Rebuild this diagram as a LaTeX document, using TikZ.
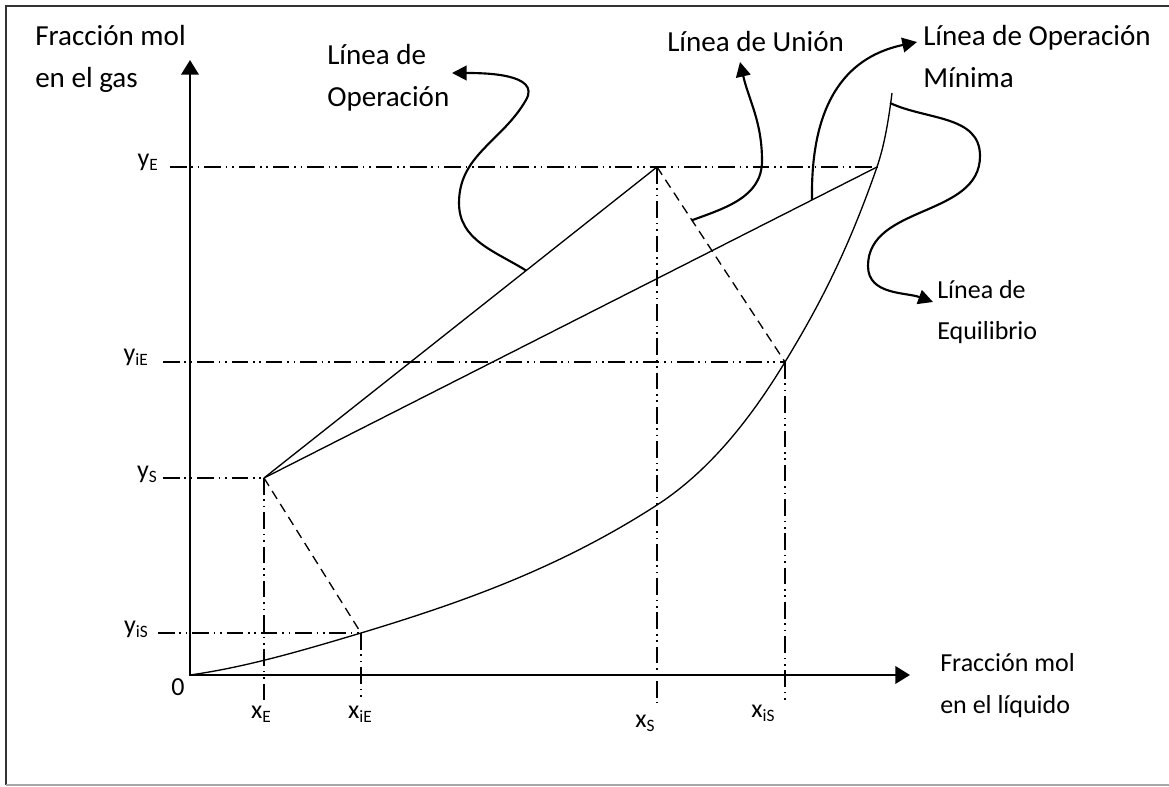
\documentclass[tikz,border=0pt]{standalone}
\usepackage{fontspec}
\setmainfont{Carlito}
\usetikzlibrary{arrows.meta,calc}
\newcommand{\sbi}[1]{\raisebox{-3pt}{\fontsize{13}{13}\selectfont #1}}

\begin{document}
\begin{tikzpicture}[x=0.75pt, y=0.75pt,
	ejes/.style={line width=2pt, {Triangle[length=11pt,width=13pt]}-{Triangle[length=11pt,width=13pt]}},
	fina/.style={line width=1pt},
	guia/.style={line width=1pt, dash pattern=on 12.5pt off 3.6pt on 1.2pt off 3.6pt on 1.2pt off 3.6pt},
	union/.style={line width=1pt, dash pattern=on 7pt off 4.5pt},
	curva/.style={line width=1.6pt, -{Triangle[length=11pt,width=11pt]}},
	texto/.style={font=\fontsize{19.5}{31}\selectfont, inner sep=0pt, align=left},
	textog/.style={font=\fontsize{21.8}{31.5}\selectfont, inner sep=0pt, align=left}]

	\useasboundingbox (0,0) rectangle (1169,786);
	\draw[line width=1.6pt, black!80] (1169,780) -- (6,780) -- (6,1);
	\draw[line width=1pt, black!35] (6,1) -- (1169,1);

	% puntos del diagrama
	\coordinate (O) at (190,111);
	\coordinate (S) at (264,308);
	\coordinate (P) at (657,619);
	\coordinate (Q) at (877,619);
	\coordinate (R) at (785,424);
	\coordinate (T) at (361,153);

	\draw[ejes] (190,726) -- (O) -- (910,111);

	% lineas auxiliares
	\draw[guia] (170,619) -- (Q);
	\draw[guia] (163,424) -- (R);
	\draw[guia] (163,308) -- (S);
	\draw[guia] (158,153) -- (T);
	\draw[guia] (S) -- (264,86);
	\draw[guia] (T) -- (361,88);
	\draw[guia] (P) -- (657,83);
	\draw[guia] (R) -- (785,86);

	% curva de equilibrio y lineas de operacion
	\draw[fina] (O) .. controls (247,119) and (304,136) .. (T)
		.. controls (460,183) and (558,217) .. (657,281)
		.. controls (700,309) and (742,353) .. (R)
		.. controls (816,475) and (846,530) .. (Q)
		.. controls (882,634) and (887,653) .. (892,693);
	\draw[fina] (S) -- (P);
	\draw[fina] (S) -- (Q);
	\draw[union] (P) -- (R);
	\draw[union] (S) -- (T);

	% textos (base = ultima linea)
	\node[textog, anchor=base west] (gas) at (35,698) {Fracción mol\\en el gas};
	\node[texto, anchor=base west] (liq) at (940,73) {Fracción mol\\en el líquido};
	\node[textog, anchor=base west] (lop) at (327,679) {Línea de\\Operación};
	\node[textog, anchor=base west] (lun) at (667,734) {Línea de Unión};
	\node[textog, anchor=base west] (lmin) at (923,698) {Línea de Operación\\Mínima};
	\node[texto, anchor=base west] (leq) at (937,446) {Línea de\\Equilibrio};
	\node[texto, anchor=base] (cero) at (178,91) {0};
	\node[texto, anchor=base east] (yE) at (158,619) {y\sbi{E}};
	\node[texto, anchor=base east] (yiE) at (148,424) {y\sbi{iE}};
	\node[texto, anchor=base east] (yS) at (157,308) {y\sbi{S}};
	\node[texto, anchor=base east] (yiS) at (148,153) {y\sbi{iS}};
	\node[texto, anchor=base] (xE) at (261,68) {x\sbi{E}};
	\node[texto, anchor=base] (xiE) at (360,68) {x\sbi{iE}};
	\node[texto, anchor=base] (xS) at (645,59) {x\sbi{S}};
	\node[texto, anchor=base] (xiS) at (763,69) {x\sbi{iS}};

	% flechas de las etiquetas
	\coordinate (a1) at ($(S)!.667!(P)$);
	\coordinate (b1) at (452,713);
	\coordinate (a2) at ($(P)!.273!(R)$);
	\coordinate (b2) at (740,724);
	\coordinate (a3) at ($(S)!.894!(Q)$);
	\coordinate (b3) at (917,744);
	\coordinate (a4) at (890,683);
	\coordinate (b4) at (933,484);
	\draw[curva] (a1) to[out=148,in=-90] (459,583) to[out=90,in=-120] (526,686) to[out=60,in=0] (b1);
	\draw[curva] (a2) to[out=20,in=-90] (762,625) to[out=90,in=-77] (b2);
	\draw[curva] (a3) .. controls (810,700) and (860,732) .. (b3);
	\draw[curva] (a4) to[out=-25,in=90] (980,630) to[out=-90,in=90] (868,520) to[out=-90,in=160] (b4);

\end{tikzpicture}
\end{document}
